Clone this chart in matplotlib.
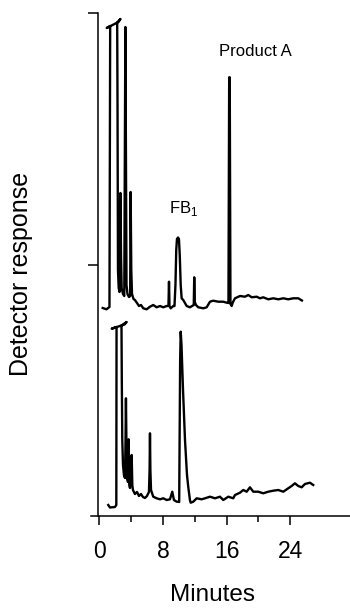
import matplotlib
matplotlib.use("Agg")
import matplotlib.pyplot as plt

plt.rcParams['font.family'] = ['Liberation Sans', 'DejaVu Sans']
plt.rcParams['mathtext.fontset'] = 'custom'
plt.rcParams['mathtext.rm'] = 'Liberation Sans'

# ---------------- data (minutes, detector response in arbitrary units) ----------------
top_time = [0.43, 0.90, 1.28, 1.37, 0.93, 2.41, 2.66, 2.25, 2.29, 2.35, 2.44, 2.54,
            2.60, 2.66, 2.73, 2.81, 2.98, 3.14, 3.23, 3.28, 3.33, 3.42, 3.54, 3.73,
            3.88, 3.94, 4.02, 4.11, 4.30, 4.48, 4.74, 4.99, 5.24, 5.53, 5.95, 6.37,
            6.78, 7.21, 7.63, 8.04, 8.47, 8.69, 8.76, 8.82, 8.97, 9.30, 9.45, 9.57,
            9.67, 9.76, 9.89, 10.01, 10.11, 10.23, 10.35, 10.55, 10.98, 11.39, 11.87,
            11.93, 12.00, 12.15, 12.44, 13.07, 13.49, 13.91, 14.32, 14.95, 15.58,
            16.01, 16.23, 16.32, 16.39, 16.48, 16.63, 16.80, 17.05, 17.68, 18.30,
            18.72, 19.15, 19.77, 20.19, 20.60, 21.23, 21.86, 22.49, 23.12, 23.74,
            24.37, 25.00, 25.46]
top_resp = [-2, -3.3, -1, 280, 278, 284, 287, 283.5, 206, 36, 18, 14,
            56, 113, 51, 18, 12, 10, 186, 279, 186, 21, 12, 9,
            10, 114, 36, 12, 7, 6, 3, 0, 1, -2.3, -3.3, -0.7,
            1, -1.3, 0, -1.3, 0, 0, 24.3, 0, -2.3, 0, 0, 21,
            56, 67, 68.5, 67, 51, 21, 7.7, 6, 0, -1.3, 1,
            28.7, 4, 1, -1.3, -2.3, -1.3, 4.3, 5.3, 4.3, 4.3,
            3.3, 3, 228.7, 228.7, 2, 0, 4, 7.7, 10, 9.3,
            11, 8.7, 9.3, 7.7, 8.7, 6.7, 7.7, 6.7, 7.7, 6.7,
            7.7, 7.7, 5.5]

bottom_time = [1.13, 1.34, 1.97, 2.14, 2.17, 1.56, 3.17, 3.44, 2.79, 2.83, 2.89, 2.98,
               3.10, 3.23, 3.30, 3.35, 3.42, 3.48, 3.61, 3.69, 3.77, 3.86, 3.98, 4.07,
               4.15, 4.23, 4.48, 4.74, 4.99, 5.24, 5.49, 5.74, 5.99, 6.24, 6.32, 6.37,
               6.42, 6.50, 6.78, 7.21, 7.63, 8.04, 8.47, 8.88, 9.17, 9.38, 9.72, 9.97,
               10.04, 10.16, 10.23, 10.33, 10.52, 10.77, 11.02, 11.18, 11.39, 11.48,
               11.81, 12.24, 12.86, 13.28, 13.91, 14.54, 15.16, 15.58, 16.21, 16.83,
               17.05, 17.68, 18.09, 18.52, 18.93, 19.35, 19.97, 20.60, 21.23, 21.86,
               22.49, 23.12, 23.74, 24.17, 24.58, 25.00, 25.43, 25.84, 26.47, 26.88]
bottom_resp = [-4, -6.5, -6, -4, 174, 172.3, 176.5, 179, 175.5, 121, 61, 36,
               26, 23, 61, 102.7, 51, 23, 19, 61.7, 16, 13, 31, 46,
               16, 11, 7, 9, 5, 7, 4, 3, 5, 9, 31, 67.7,
               31, 11, 4.3, 2.7, 1.7, 2.7, 1, 1.7, 9.3, 1, -0.7, -0.7,
               -1, 141, 169.3, 156, 111, 61, 26, 14, 1, -1.7,
               -0.7, 2.7, 1.7, 2.7, 4.3, 2.7, 4.3, 1, 4.3, 2.7,
               6, 8.3, 11, 9.3, 13.7, 9.3, 9.3, 7.7, 9.3, 10.3,
               11, 9.3, 12.7, 15, 17.7, 15, 13.7, 17, 18.3, 16]

x_major_ticks = [0, 8, 16, 24]
x_minor_ticks = [4, 12, 20]
peak_labels = ["FB$_\\mathregular{1}$", "Product A"]
x_label = "Minutes"
y_label = "Detector response"

# ---------------- layout ----------------
TOP_OFFSET = 210
BOTTOM_OFFSET = 15
W, H = 350, 608

fig = plt.figure(figsize=(W / 100, H / 100), dpi=100)
ax = fig.add_axes([91 / W, (H - 516) / H, (W - 91) / W, (516 - 13) / H])

ax.plot(top_time, [v + TOP_OFFSET for v in top_resp], color='black', lw=1.7,
        solid_joinstyle='round', clip_on=False)
ax.plot(bottom_time, [v + BOTTOM_OFFSET for v in bottom_resp], color='black', lw=1.7,
        solid_joinstyle='round', clip_on=False)

ax.set_xlim(-1.04, 31.5)
ax.set_ylim(0, 503)

for s in ['top', 'right']:
    ax.spines[s].set_visible(False)
ax.spines['left'].set_position(('data', -0.17))
ax.spines['left'].set_linewidth(1.1)
ax.spines['bottom'].set_linewidth(1.1)

ax.set_xticks(x_major_ticks)
ax.set_xticks(x_minor_ticks, minor=True)
ax.set_xticklabels([str(t) for t in x_major_ticks])
ax.tick_params(axis='x', which='major', length=6.5, width=1.1, labelsize=16.5, pad=10.5)
ax.tick_params(axis='x', which='minor', length=4.3, width=1.1)
ax.set_yticks([251, 503])
ax.set_yticklabels([])
ax.tick_params(axis='y', which='major', length=7, width=1.1)

ax.set_xlabel(x_label, fontsize=17.5, va='center')
ax.xaxis.set_label_coords((213 - 91) / 259, (516 - 595) / 503)
ax.set_ylabel(y_label, fontsize=18, va='center')
ax.yaxis.set_label_coords((21 - 91) / 259, (516 - 274) / 503)

ax.text(10.54, 308, peak_labels[0], fontsize=12, ha='center', va='center')
ax.text(19.62, 464, peak_labels[1], fontsize=12, ha='center', va='center')

fig.savefig("out.png", dpi=100)
